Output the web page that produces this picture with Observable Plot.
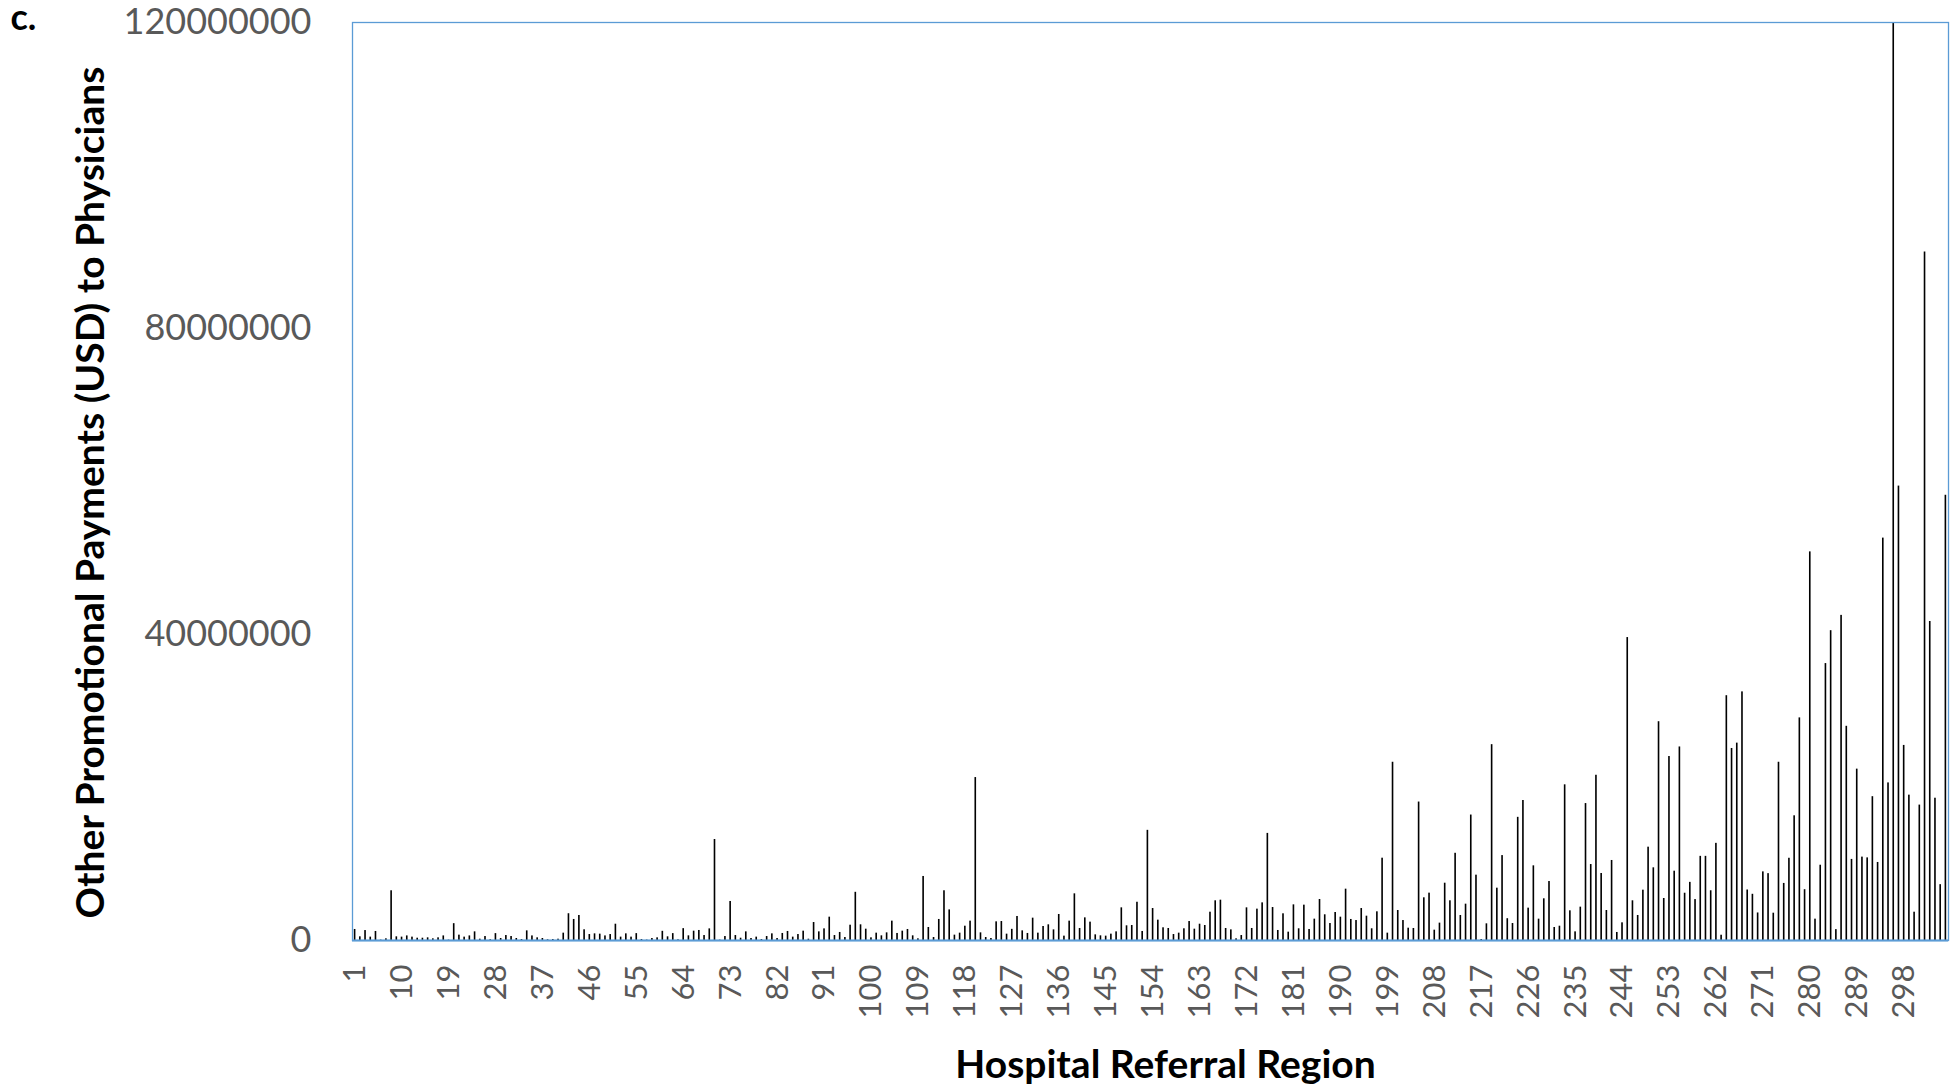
<!DOCTYPE html>
<html><head><meta charset="utf-8">
<script src="https://cdn.jsdelivr.net/npm/d3@7"></script>
<script src="https://cdn.jsdelivr.net/npm/@observablehq/plot@0.6"></script>
<style>body{margin:0;background:#fff} svg{display:block}</style>
</head><body><div id="chart"></div>
<script>
// Other promotional payments per Hospital Referral Region, in millions of USD
const paymentsMillions = [
  1.44,0.48,1.3,0.44,1.18,0.05,0.22,6.5,0.48,0.44,
  0.6,0.44,0.3,0.3,0.35,0.22,0.35,0.6,0.05,2.2,
  0.7,0.44,0.6,1.13,0.17,0.52,0.1,0.9,0.26,0.65,
  0.52,0.26,0.13,1.26,0.6,0.35,0.26,0.09,0.13,0.17,
  0.96,3.5,2.75,3.27,1.4,0.78,0.87,0.83,0.6,0.78,
  2.13,0.44,0.87,0.44,0.9,0.13,0.05,0.26,0.35,1.2,
  0.48,0.9,0.09,1.55,0.61,1.22,1.31,0.65,1.52,13.2,
  0.05,0.52,5.1,0.65,0.3,1.13,0.26,0.44,0.13,0.52,
  0.87,0.26,0.92,1.18,0.44,0.78,1.22,0.17,2.35,1.13,
  1.52,3.05,0.65,1.05,0.39,2.0,6.3,2.05,1.48,0.35,
  0.96,0.61,1.0,2.53,0.92,1.22,1.44,0.61,0.22,8.37,
  1.7,0.39,2.75,6.5,4.0,0.7,0.96,1.87,2.53,21.3,
  1.0,0.39,0.26,2.44,2.48,0.83,1.46,3.14,1.26,0.92,
  2.92,0.96,1.83,2.05,1.39,3.4,0.57,2.53,6.1,1.57,
  2.96,2.4,0.74,0.61,0.57,0.83,1.13,4.27,1.92,1.96,
  5.0,1.18,14.4,4.18,2.66,1.66,1.57,0.78,0.96,1.53,
  2.48,1.48,2.13,1.96,3.7,5.19,5.27,1.57,1.39,0.22,
  0.65,4.27,1.57,4.1,4.92,14.0,4.31,1.31,3.49,1.09,
  4.66,1.53,4.62,1.44,2.79,5.36,3.36,2.22,3.66,3.05,
  6.71,2.75,2.61,4.18,3.18,1.53,3.75,10.76,0.96,23.3,
  3.92,2.61,1.61,1.57,18.1,5.58,6.19,1.35,2.27,7.49,
  5.19,11.4,3.27,4.75,16.4,8.54,0.13,2.18,25.6,6.84,
  11.1,2.85,2.22,16.1,18.3,4.23,9.76,2.79,5.45,7.71,
  1.7,1.87,20.35,3.88,1.13,4.36,17.9,9.93,21.6,8.76,
  3.92,10.46,1.05,2.31,39.6,5.19,3.27,6.58,12.2,9.5,
  28.6,5.49,24.05,9.06,25.3,6.18,7.6,5.35,11.0,11.0,
  6.5,12.7,0.69,32.0,25.1,25.8,32.5,6.6,6.04,3.6,
  8.97,8.74,3.57,23.3,7.46,10.75,16.3,29.1,6.64,50.8,
  2.79,9.84,36.2,40.5,1.42,42.5,28.0,10.6,22.4,10.9,
  10.8,18.8,10.2,52.6,20.6,120.0,59.4,25.5,19.0,3.7,
  17.7,90.0,41.7,18.6,7.3,58.2
];
const regions = paymentsMillions.map((_, i) => i + 1);
const xTickLabels = [1,10,19,28,37,46,55,64,73,82,91,100,109,118,127,136,145,154,163,172,181,190,199,208,217,226,235,244,253,262,271,280,289,298];
const yTicks = [0, 40000000, 80000000, 120000000];
const yTitle = "Other Promotional Payments (USD) to Physicians";
const xTitle = "Hospital Referral Region";
const panelLabel = "c.";

const data = regions.map((r, i) => ({region: r, usd: paymentsMillions[i] * 1e6}));

const chart = Plot.plot({
  width: 1950, height: 1087,
  marginLeft: 352, marginRight: 2, marginTop: 22, marginBottom: 147,
  style: {fontFamily: "Lato, 'Open Sans', sans-serif", background: "#fff"},
  x: {type: "band", domain: regions, paddingInner: 0.69, paddingOuter: 0.345},
  y: {domain: [0, 120000000]},
  marks: [
    Plot.barY(data, {x: "region", y: "usd", fill: "#000"}),
    Plot.frame({stroke: "#5B9BD5", strokeWidth: 1.3}),
    Plot.ruleY([0], {stroke: "#5B9BD5", strokeWidth: 2}),
    Plot.axisY(yTicks, {tickSize: 0, tickPadding: 41, tickFormat: d => String(d), fontSize: 36, fill: "#595959", label: null}),
    Plot.axisX(xTickLabels, {tickSize: 0, tickPadding: 24, tickRotate: -90, fontSize: 31, fill: "#595959", label: null}),
    Plot.text([yTitle], {text: d => d, frameAnchor: "left", textAnchor: "middle", lineAnchor: "middle", dx: -261, dy: 11, rotate: -90, fontSize: 39, fontWeight: "bold", fill: "#000"}),
    Plot.text([xTitle], {text: d => d, frameAnchor: "bottom", textAnchor: "middle", lineAnchor: "middle", dx: 15, dy: 125, fontSize: 39, fontWeight: "bold", fill: "#000"}),
    Plot.text([panelLabel], {text: d => d, frameAnchor: "top-left", textAnchor: "start", lineAnchor: "middle", dx: -342, dy: -4, fontSize: 36, fontWeight: "bold", fill: "#000"})
  ]
});
document.getElementById("chart").append(chart);
</script>
</body></html>
